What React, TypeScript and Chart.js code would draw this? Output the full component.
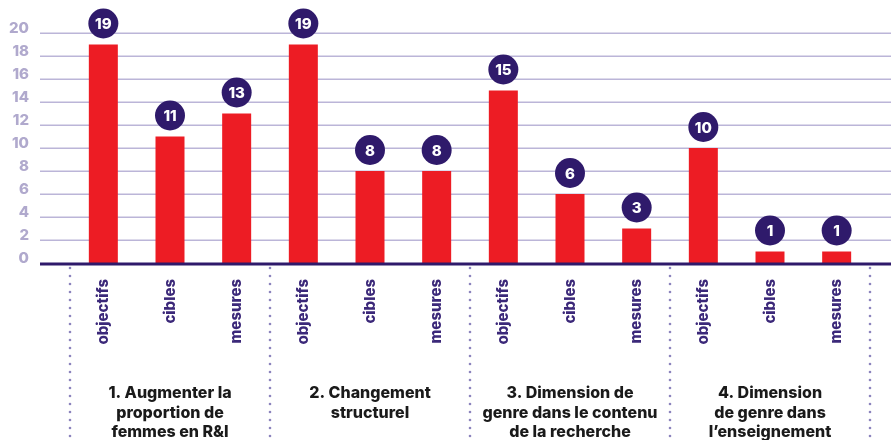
import React, { useEffect, useRef } from "react";
import { Chart, registerables } from "chart.js";

Chart.register(...registerables);

const categories = [
  "objectifs", "cibles", "mesures",
  "objectifs", "cibles", "mesures",
  "objectifs", "cibles", "mesures",
  "objectifs", "cibles", "mesures",
];
const values = [19, 11, 13, 19, 8, 8, 15, 6, 3, 10, 1, 1];
const groupLabels = [
  ["1. Augmenter la", "proportion de", "femmes en R&I"],
  ["2. Changement", "structurel"],
  ["3. Dimension de", "genre dans le contenu", "de la recherche"],
  ["4. Dimension", "de genre dans", "l\u2019enseignement"],
];
const yMin = 0;
const yMax = 20;
const yStep = 2;

const FONT = "Inter, 'Open Sans', sans-serif";
const RED = "#ed1c24";
const DARK = "#2f1a6b";
const XLABEL = "#3b2879";
const YLABEL = "#b0a9cd";
const GRID = "#bbb5d8";
const DOTS = "#8c84bd";

const decorPlugin = {
  id: "decor",
  beforeDatasetsDraw(chart: any) {
    const { ctx, scales } = chart;
    const y = scales.y;
    ctx.save();
    ctx.strokeStyle = GRID;
    ctx.lineWidth = 1.5;
    for (let v = yMin + yStep; v <= yMax; v += yStep) {
      const py = Math.round(y.getPixelForValue(v)) + 0.25;
      ctx.beginPath();
      ctx.moveTo(40, py);
      ctx.lineTo(chart.width, py);
      ctx.stroke();
    }
    ctx.restore();
  },
  afterDatasetsDraw(chart: any) {
    const { ctx, scales } = chart;
    const x = scales.x;
    const y = scales.y;
    ctx.save();
    const by = y.getPixelForValue(0);
    ctx.strokeStyle = DARK;
    ctx.lineWidth = 3;
    ctx.beginPath();
    ctx.moveTo(40, by + 1);
    ctx.lineTo(chart.width, by + 1);
    ctx.stroke();

    const meta = chart.getDatasetMeta(0);
    meta.data.forEach((bar: any, i: number) => {
      const cx = bar.x;
      const cy = bar.y - 21;
      ctx.fillStyle = DARK;
      ctx.beginPath();
      ctx.arc(cx, cy, 15, 0, Math.PI * 2);
      ctx.fill();
      ctx.fillStyle = "#ffffff";
      ctx.font = `800 15px ${FONT}`;
      ctx.textAlign = "center";
      ctx.textBaseline = "middle";
      ctx.fillText(String(values[i]), cx, cy + 1);
    });

    const half = (x.getPixelForValue(1) - x.getPixelForValue(0)) / 2;
    ctx.fillStyle = DOTS;
    for (let g = 0; g <= groupLabels.length; g++) {
      const idx = g * 3;
      const sx = idx < categories.length ? x.getPixelForValue(idx) - half : x.getPixelForValue(categories.length - 1) + half;
      for (let dy = by + 5; dy <= chart.height; dy += 8) {
        ctx.beginPath();
        ctx.arc(sx, dy, 1.3, 0, Math.PI * 2);
        ctx.fill();
      }
    }

    ctx.fillStyle = "#1a1a1a";
    ctx.font = `800 16px ${FONT}`;
    ctx.textAlign = "center";
    ctx.textBaseline = "alphabetic";
    groupLabels.forEach((lines, g) => {
      const cx = x.getPixelForValue(g * 3 + 1);
      lines.forEach((line, li) => {
        ctx.fillText(line, cx, 398 + li * 19.5);
      });
    });
    ctx.restore();
  },
};

export default function App() {
  const ref = useRef<HTMLCanvasElement>(null);
  useEffect(() => {
    document.body.style.margin = "0";
    const chart = new Chart(ref.current!, {
      type: "bar",
      data: {
        labels: categories,
        datasets: [
          {
            data: values,
            backgroundColor: RED,
            barPercentage: 0.435,
            categoryPercentage: 1,
          },
        ],
      },
      options: {
        responsive: false,
        animation: false,
        layout: { padding: { left: 0, right: 21, top: 33, bottom: 0 } },
        plugins: { legend: { display: false }, tooltip: { enabled: false } },
        scales: {
          x: {
            grid: { display: false, drawTicks: false },
            border: { display: false },
            ticks: {
              color: XLABEL,
              font: { family: FONT, size: 15, weight: 800 },
              minRotation: 90,
              maxRotation: 90,
              padding: 16,
              autoSkip: false,
            },
            afterFit: (s: any) => {
              s.height = 177;
              s.paddingLeft = 0;
              s.paddingRight = 0;
            },
          },
          y: {
            min: yMin,
            max: yMax,
            grid: { display: false, drawTicks: false },
            border: { display: false },
            ticks: {
              stepSize: yStep,
              color: YLABEL,
              font: { family: FONT, size: 15, weight: 800 },
              padding: 41,
              labelOffset: -5,
            },
            afterFit: (s: any) => {
              s.width = 70;
              s.paddingTop = 0;
              s.paddingBottom = 0;
            },
          },
        },
      },
      plugins: [decorPlugin],
    });
    return () => chart.destroy();
  }, []);
  return <canvas ref={ref} width={891} height={440} style={{ display: "block" }} />;
}
